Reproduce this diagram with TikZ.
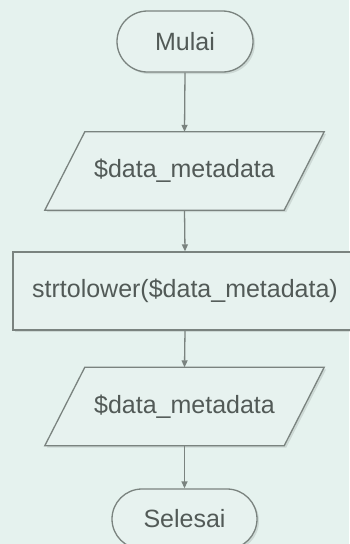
\documentclass[tikz,border=0pt]{standalone}
\usepackage{fontspec}
\setmainfont{Liberation Sans}
\usetikzlibrary{shapes.misc,arrows.meta,shadows}
\definecolor{bgmint}{RGB}{229,242,238}
\definecolor{shapefill}{RGB}{231,242,239}
\definecolor{edgegray}{RGB}{122,131,127}
\definecolor{txtgray}{RGB}{82,90,87}
\tikzset{
  lbl/.style={font=\fontsize{25}{30}\selectfont, text=txtgray, inner sep=0pt},
  shade/.style={drop shadow={shadow xshift=2pt, shadow yshift=-2pt, fill=black, opacity=0.10}},
  edge/.style={draw=edgegray, line width=1.3pt},
  term/.style={lbl, rounded rectangle, edge, fill=shapefill, shade},
  procbox/.style={lbl, rectangle, edge, fill=shapefill, shade},
  iobox/.style={lbl, rectangle, minimum width=239pt, minimum height=78pt},
  conn/.style={draw=edgegray, line width=1.3pt, -{Triangle[length=7pt,width=6pt]}}
}
\begin{document}
\begin{tikzpicture}[x=1pt,y=-1pt]
  \fill[bgmint] (0,0) rectangle (349,544);
  \useasboundingbox (0,0) rectangle (349,544);

  \node[term, minimum width=136pt, minimum height=61pt] (mulai) at (185,41.5) {Mulai};

  \node[iobox] (in) at (184.5,171) {};
  \path[edge, fill=shapefill, shade]
    ([xshift=20pt]in.north west) -- ([xshift=20pt]in.north east)
    -- ([xshift=-20pt]in.south east) -- ([xshift=-20pt]in.south west) -- cycle;
  \node[lbl] (intext) at (in.center) {\$data\_metadata};

  \node[procbox, minimum width=344pt, minimum height=78pt] (proc) at (185,291) {strtolower(\$data\_metadata)};

  \node[iobox] (out) at (184.5,406.5) {};
  \path[edge, fill=shapefill, shade]
    ([xshift=20pt]out.north west) -- ([xshift=20pt]out.north east)
    -- ([xshift=-20pt]out.south east) -- ([xshift=-20pt]out.south west) -- cycle;
  \node[lbl] (outtext) at (out.center) {\$data\_metadata};

  \node[term, minimum width=145pt, minimum height=60pt] (selesai) at (184.5,519) {Selesai};

  \draw[conn] (mulai.south) -- (in.north);
  \draw[conn] (in.south) -- (proc.north);
  \draw[conn] (proc.south) -- (out.north);
  \draw[conn] (out.south) -- (selesai.north);
\end{tikzpicture}
\end{document}
